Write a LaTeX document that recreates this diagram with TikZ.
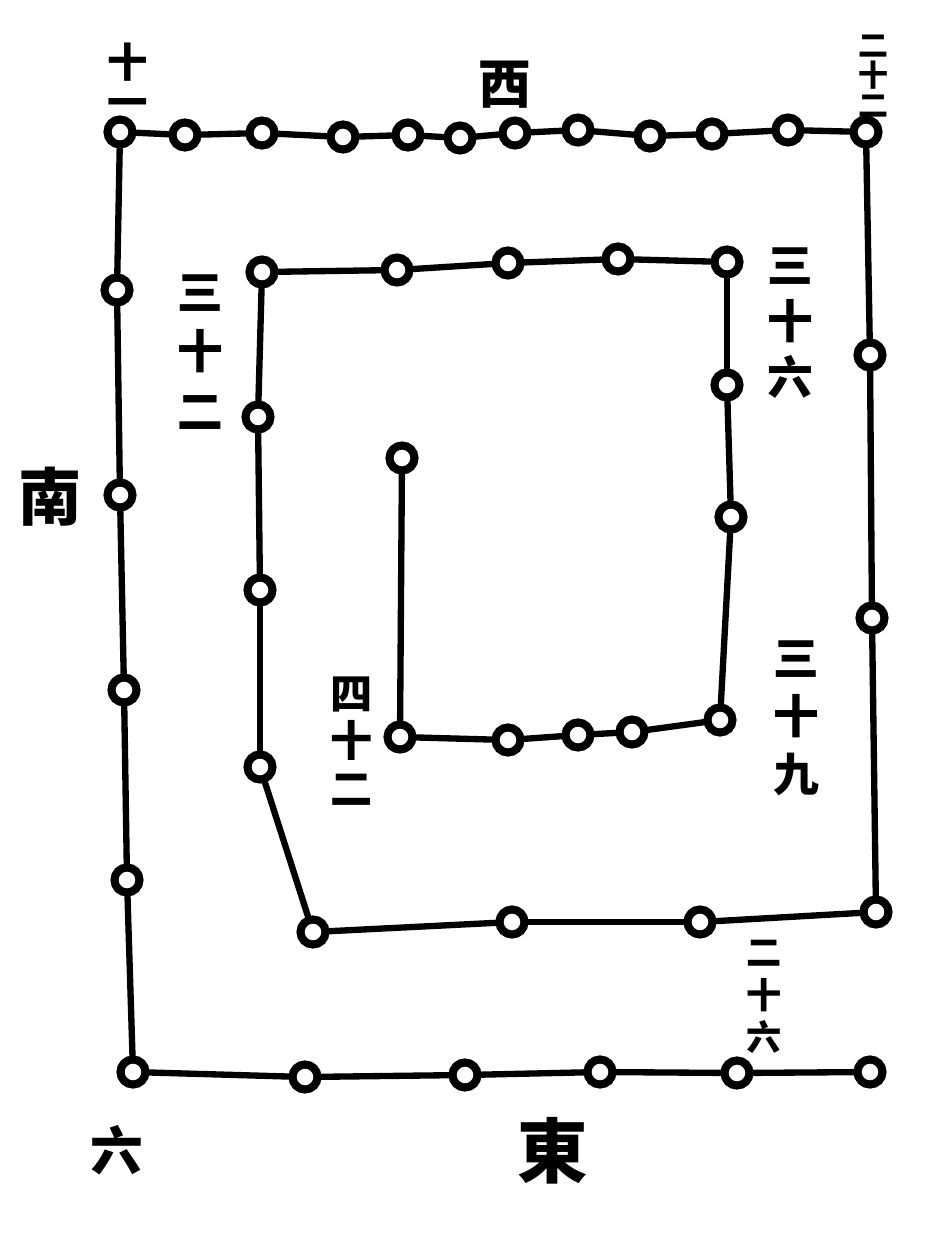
\documentclass[tikz,border=0pt]{standalone}
\usepackage{fontspec}
\newfontfamily\cjk{Noto Sans CJK TC}
\usetikzlibrary{positioning}
\tikzset{
  dot/.style={circle,draw,fill=white,line width=2.3pt,minimum size=0.25cm,inner sep=0pt},
  wire/.style={line width=1.8pt,line cap=round,line join=round},
  num/.style={align=center,inner sep=0pt},
  side/.style={inner sep=0pt,font=\cjk\bfseries\fontsize{#1}{#1}\selectfont}
}
\newcommand{\numfont}[2]{\cjk\bfseries\fontsize{#1}{#2}\selectfont}

\begin{document}
\begin{tikzpicture}[x=0.01cm,y=-0.01cm]
  \useasboundingbox (0,0) rectangle (946,1256);
  % the knots, from the free outer end inwards
  \foreach \px/\py [count=\i] in {870/1072,737/1073,600/1072,465/1075,305/1077,133/1072,
      127/880,124/690,120/495,117/290,120/132,
      185/135,262/133,343/137,408/135,460/138,515/133,578/130,650/136,712/134,788/130,866/132,
      870/355,872/618,876/912,
      700/922,512/922,313/932,
      260/767,260/590,258/417,262/272,
      397/270,508/263,618/259,727/262,
      727/385,731/517,720/720,
      632/732,578/735,508/740,400/737,
      402/458}
    \node[dot] (d\i) at (\px,\py) {};
  \foreach \i in {1,...,43} {
    \pgfmathtruncatemacro\j{\i+1}
    \draw[wire] (d\i) -- (d\j);
  }
  % the four sides
  \node[side=15] (west) at (505,85) {西};
  \node[side=18] (south) at (50,497) {南};
  \node[side=20] (east) at (553,1151) {東};
  % counts along the spiral
  \node[num,font=\numfont{15}{15}] (n6) at (117,1150) {六};
  \node[num,font=\numfont{11.5}{11.5}] (n11) at (128,80) {十\\一};
  \node[num,font=\numfont{8.5}{8.5}] (n22) at (873,76) {二\\十\\二};
  \node[num,font=\numfont{10}{12}] (n26) at (764,997) {二\\十\\六};
  \node[num,font=\numfont{13}{17}] (n32) at (200,352) {三\\十\\二};
  \node[num,font=\numfont{13}{16}] (n36) at (790,323) {三\\十\\六};
  \node[num,font=\numfont{13}{16.5}] (n39) at (796,718) {三\\十\\九};
  \node[num,font=\numfont{12}{13.5}] (n42) at (352,741) {四\\十\\二};
\end{tikzpicture}
\end{document}
